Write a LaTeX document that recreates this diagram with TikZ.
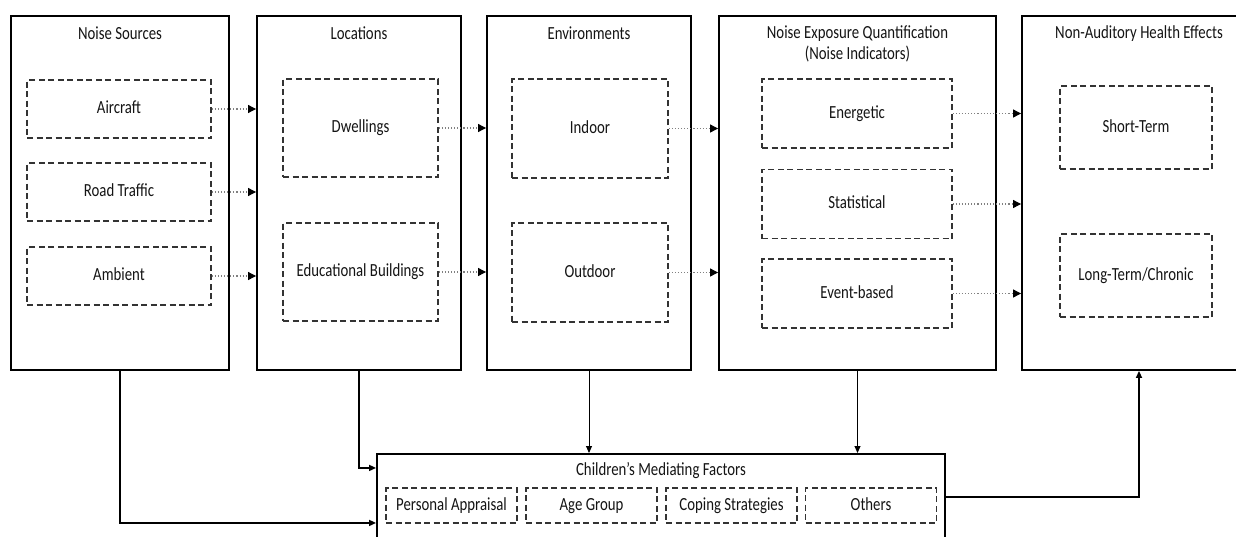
\documentclass[tikz,border=0pt]{standalone}
\usepackage{fontspec}
\setmainfont{Carlito}[FakeStretch=0.8]
\usetikzlibrary{arrows.meta}
\usetikzlibrary{positioning}
\usetikzlibrary{calc}

\tikzset{
  mainbox/.style={draw=black, line width=1.9pt, inner sep=0pt},
  subbox/.style={draw=black!80, line width=1.3pt, dash pattern=on 6pt off 3.5pt,
    inner sep=0pt, align=center, text=black!92, text height=13pt, text depth=4pt,
    font=\fontsize{18.5}{21}\selectfont},
  boxtitle/.style={inner sep=0pt, align=center, text=black!92, font=\fontsize{18.5}{21}\selectfont},
  feed/.style={draw=black!50, line width=1.1pt, dotted, -{Triangle[length=8pt,width=8pt,color=black]}},
  link/.style={draw=black, line width=1.5pt, -{Triangle[length=7pt,width=6pt]}},
  thinlink/.style={link, line width=0.9pt},
}

\begin{document}
\begin{tikzpicture}[x=1pt,y=-1pt]
  \useasboundingbox (0,0) rectangle (1236,536);
  \clip (0,0) rectangle (1236,536);

  % column boxes (pixel coordinates, y downwards)
  \def\ytop{15}
  \def\colh{354}
  \node[mainbox, minimum width=218pt, minimum height=\colh pt, anchor=north] (src) at (120,\ytop) {};
  \node[mainbox, minimum width=204pt, minimum height=\colh pt, anchor=north] (loc) at (359,\ytop) {};
  \node[mainbox, minimum width=204pt, minimum height=\colh pt, anchor=north] (env) at (589,\ytop) {};
  \node[mainbox, minimum width=277pt, minimum height=\colh pt, anchor=north] (nexp) at (857.5,\ytop) {};
  \node[mainbox, minimum width=234pt, minimum height=\colh pt, anchor=north] (hea) at (1139,\ytop) {};

  % column titles
  \node[boxtitle] (srct) at ([yshift=-18pt]src.north) {Noise Sources};
  \node[boxtitle] (loct) at ([yshift=-18pt]loc.north) {Locations};
  \node[boxtitle] (envt) at ([yshift=-18pt]env.north) {Environments};
  \node[boxtitle] (nexpt) at ([yshift=-28.5pt]nexp.north) {Noise Exposure Quantification\\(Noise Indicators)};
  \node[boxtitle] (heat) at ([yshift=-19pt]hea.north) {Non-Auditory Health Effects};

  % noise sources
  \node[subbox, minimum width=184pt, minimum height=58pt] (air) at (119,109) {Aircraft};
  \node[subbox, minimum width=184pt, minimum height=58pt] (road) at (119,192) {Road Traffic};
  \node[subbox, minimum width=184pt, minimum height=58pt] (amb) at (119,276) {Ambient};

  % locations
  \node[subbox, minimum width=155pt, minimum height=98pt] (dwel) at (360.5,128) {Dwellings};
  \node[subbox, minimum width=155pt, minimum height=98pt] (edu) at (360.5,272) {Educational Buildings};

  % environments
  \node[subbox, minimum width=156pt, minimum height=99pt] (ind) at (590,128.5) {Indoor};
  \node[subbox, minimum width=156pt, minimum height=99pt] (outd) at (590,272.5) {Outdoor};

  % noise indicators
  \node[subbox, minimum width=190pt, minimum height=69pt] (ener) at (857,113.5) {Energetic};
  \node[subbox, minimum width=190pt, minimum height=69pt] (stat) at (857,204) {Statistical};
  \node[subbox, minimum width=190pt, minimum height=69pt] (evt) at (857,293.5) {Event-based};

  % health effects
  \node[subbox, minimum width=152pt, minimum height=83pt] (shrt) at (1136,127.5) {Short-Term};
  \node[subbox, minimum width=152pt, minimum height=83pt] (lng) at (1136,275.5) {Long-Term/Chronic};

  % mediating factors
  \node[mainbox, minimum width=568pt, minimum height=100pt, anchor=north] (med) at (661,453) {};
  \node[boxtitle] (medt) at ([yshift=-18pt]med.north) {Children’s Mediating Factors};
  \node[subbox, minimum width=131pt, minimum height=35pt] (appr) at (451.5,505.5) {Personal Appraisal};
  \node[subbox, minimum width=131pt, minimum height=35pt] (age) at (591.5,505.5) {Age Group};
  \node[subbox, minimum width=131pt, minimum height=35pt] (cope) at (731.5,505.5) {Coping Strategies};
  \node[subbox, minimum width=131pt, minimum height=35pt] (oth) at (871,505.5) {Others};

  % dotted feeds between columns
  \draw[feed] (air.east) -- (air.east -| loc.west);
  \draw[feed] (road.east) -- (road.east -| loc.west);
  \draw[feed] (amb.east) -- (amb.east -| loc.west);
  \draw[feed] (dwel.east) -- (dwel.east -| env.west);
  \draw[feed] (edu.east) -- (edu.east -| env.west);
  \draw[feed] (ind.east) -- (ind.east -| nexp.west);
  \draw[feed] (outd.east) -- (outd.east -| nexp.west);
  \draw[feed] (ener.east) -- (ener.east -| hea.west);
  \draw[feed] (stat.east) -- (stat.east -| hea.west);
  \draw[feed] (evt.east) -- (evt.east -| hea.west);

  % links through the mediating factors
  \draw[link] (src.south) |- ([yshift=-19pt]med.west);
  \draw[link] (loc.south) |- ([yshift=36pt]med.west);
  \draw[thinlink] (env.south) -- (env.south |- med.north);
  \draw[thinlink] (nexp.south) -- (nexp.south |- med.north);
  \draw[link] ([yshift=7pt]med.east) -| (hea.south);

\end{tikzpicture}
\end{document}
